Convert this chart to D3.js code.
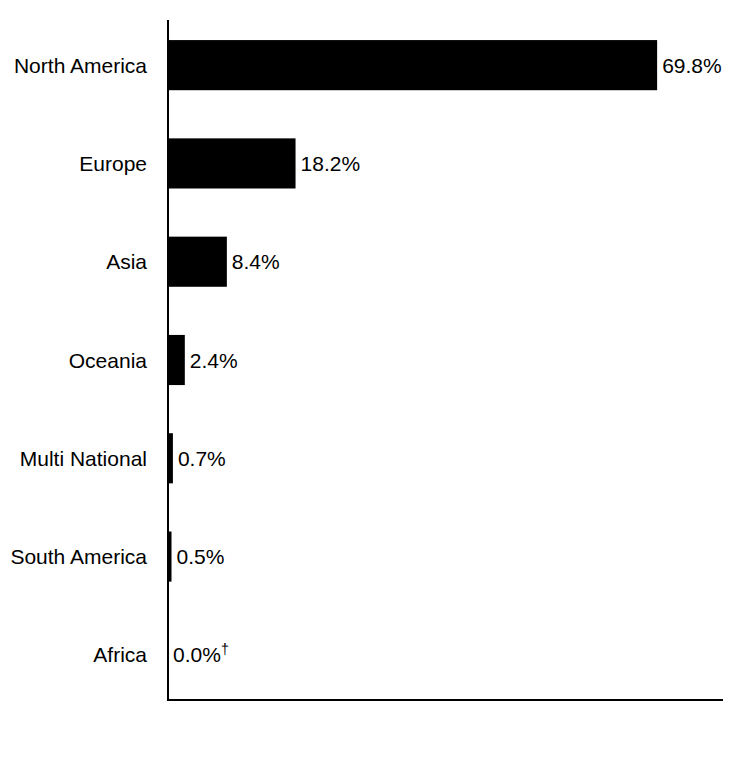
<!DOCTYPE html>
<html>
<head>
<meta charset="utf-8">
<script src="https://cdn.jsdelivr.net/npm/d3@7"></script>
<style>
  body { margin: 0; background: #fff; }
  text { font-family: "Liberation Sans", Arial, sans-serif; }
</style>
</head>
<body>
<script>
// chart data
const regions = ["North America", "Europe", "Asia", "Oceania", "Multi National", "South America", "Africa"];
const shares = [69.8, 18.2, 8.4, 2.4, 0.7, 0.5, 0.0];
const labels = ["69.8%", "18.2%", "8.4%", "2.4%", "0.7%", "0.5%", "0.0%"];
const notes = ["", "", "", "", "", "", "\u2020"];

const width = 744;
const height = 780;

// plot area
const plotLeft = 168;
const plotRight = 723;
const plotTop = 20;
const plotBottom = 700;

let svg = d3.select("body").append("svg")
  .attr("width", width)
  .attr("height", height);

let x = d3.scaleLinear()
  .domain([0, 79.2])
  .range([plotLeft, plotRight]);

let y = d3.scaleBand()
  .domain(regions)
  .range([16, 704])
  .paddingInner(0.49)
  .paddingOuter(0.245);

// bars
svg.selectAll(".bar")
  .data(regions)
  .enter().append("rect")
  .attr("class", "bar")
  .attr("x", x(0))
  .attr("y", d => y(d))
  .attr("width", (d, i) => x(shares[i]) - x(0))
  .attr("height", y.bandwidth())
  .attr("fill", "#000");

// value labels
let vals = svg.selectAll(".val")
  .data(regions)
  .enter().append("text")
  .attr("class", "val")
  .attr("x", (d, i) => x(shares[i]) + 5)
  .attr("y", d => y(d) + y.bandwidth() / 2)
  .attr("dy", "0.36em")
  .attr("font-size", 21)
  .attr("fill", "#000");

vals.append("tspan").text((d, i) => labels[i]);
vals.append("tspan")
  .attr("font-size", 14)
  .attr("dy", "-0.6em")
  .attr("fill", "#000")
  .text((d, i) => notes[i]);

// category axis
let yAxis = svg.append("g")
  .attr("transform", "translate(" + plotLeft + ",0)")
  .call(d3.axisLeft(y).tickSize(0).tickPadding(21));

yAxis.select(".domain").remove();
yAxis.selectAll("text")
  .attr("font-size", 21)
  .attr("font-family", "Liberation Sans, Arial, sans-serif")
  .attr("dy", "0.36em")
  .attr("fill", "#000");

// axis lines
svg.append("line")
  .attr("x1", plotLeft).attr("x2", plotLeft)
  .attr("y1", plotTop).attr("y2", plotBottom + 1)
  .attr("stroke", "#000")
  .attr("stroke-width", 2);

svg.append("line")
  .attr("x1", plotLeft - 1).attr("x2", plotRight)
  .attr("y1", plotBottom).attr("y2", plotBottom)
  .attr("stroke", "#000")
  .attr("stroke-width", 2);
</script>
</body>
</html>
